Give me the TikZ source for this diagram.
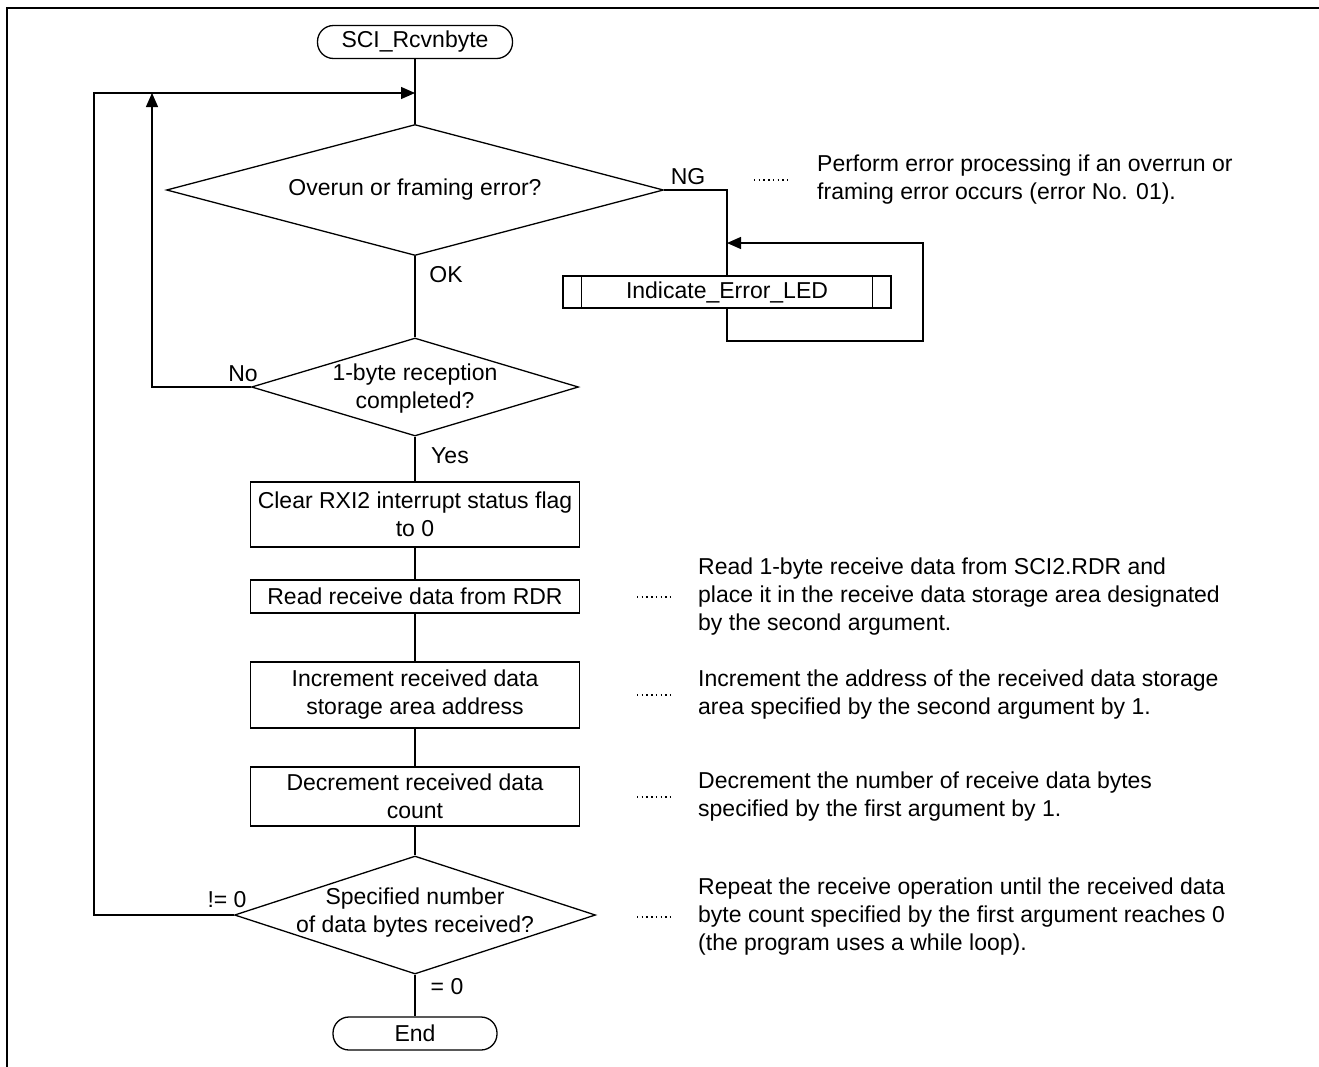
\documentclass[tikz,border=0pt]{standalone}
\usepackage{fontspec}
\setmainfont{Liberation Sans}
\usetikzlibrary{arrows.meta,shapes.geometric}
\begin{document}
\begin{tikzpicture}[x=1pt,y=-1pt,
  every node/.style={font=\fontsize{23pt}{28pt}\selectfont, inner sep=0pt},
  conn/.style={line width=1.3pt},
  arr/.style={line width=1.3pt,-{Triangle[length=14pt,width=12pt]}},
  proc/.style={draw,line width=1.3pt,rectangle,minimum width=329pt,align=center},
  terminal/.style={draw,line width=1.3pt,rectangle,rounded corners=16pt,minimum height=33pt},
  decision/.style={draw,line width=1.3pt,diamond,inner sep=0pt},
  remark/.style={anchor=west,align=left},
  leader/.style={line width=1.1pt,dash pattern=on 1.4pt off 3.3pt}
]
\useasboundingbox (0,0) rectangle (1319,1066);

% page frame (top and left rules)
\coordinate (frTR) at (1320,7.8);
\coordinate (frTL) at (6.7,7.8);
\coordinate (frBL) at (6.7,1067);
\draw[line width=2.3pt] (frTR) -- (frTL) -- (frBL);

% main column
\node[terminal, minimum width=195pt] (start) at (415,42) {SCI\_Rcvnbyte};

\node[decision, minimum width=497pt, minimum height=131pt] (d1) at (415,190) {};
\node (d1t) at (d1.center) {Overun or framing error?};

\node[decision, minimum width=327pt, minimum height=98pt] (d2) at (415,387) {};
\node[align=center] (d2t) at (415,389) {1-byte reception\\completed?};

\node[proc, minimum height=65pt] (clr) at (415,514.5) {Clear RXI2 interrupt status flag\\to 0};
\node[proc, minimum height=33pt] (rd) at (415,596.5) {Read receive data from RDR};
\node[proc, minimum height=66pt] (inc) at (415,695) {Increment received data\\storage area address};
\node[proc, minimum height=59pt] (dcr) at (415,796.5) {Decrement received data\\count};

\node[decision, minimum width=361pt, minimum height=118pt] (d3) at (415,915) {};
\node[align=center] (d3t) at (415,912.5) {Specified number\\of data bytes received?};

\node[terminal, minimum width=164pt] (fin) at (415,1033.5) {End};

% error subroutine
\node[draw, line width=1.3pt, minimum width=328pt, minimum height=32pt] (sub) at (727,292) {Indicate\_Error\_LED};
\draw[conn] ([xshift=19pt]sub.north west) -- ([xshift=19pt]sub.south west);
\draw[conn] ([xshift=-19pt]sub.north east) -- ([xshift=-19pt]sub.south east);

% branch labels
\node (ng) at (688,177) {NG};
\node (ok) at (446,275) {OK};
\node (no) at (243,374) {No};
\node (yes) at (450,456) {Yes};
\node (ne0) at (227,900) {!= 0};
\node (eq0) at (447,987) {= 0};

% connectors
\coordinate (join) at (415,93);
\coordinate (lc) at (94,93);
\coordinate (noup) at (152,93);
\coordinate (errc) at (923,341);
\coordinate (errin) at (727,243);

\draw[conn] (start.south) -- (d1.north);
\draw[conn] (d1.south) -- (d2.north);
\draw[conn] (d2.south) -- (clr.north);
\draw[conn] (clr.south) -- (rd.north);
\draw[conn] (rd.south) -- (inc.north);
\draw[conn] (inc.south) -- (dcr.north);
\draw[conn] (dcr.south) -- (d3.north);
\draw[conn] (d3.south) -- (fin.north);

\draw[conn] (d1.east) -| (sub.north);
\draw[arr] (sub.south) |- (errc) |- (errin);

\draw[arr] (d2.west) -| (noup);
\draw[arr] (d3.west) -| (lc) -- (join);

% explanatory notes
\node[remark] (n0) at (817,180) {Perform error processing if an overrun or\\framing error occurs (error No. 01).};
\node[remark] (n1) at (698,597) {Read 1-byte receive data from SCI2.RDR and\\place it in the receive data storage area designated\\by the second argument.};
\node[remark] (n2) at (698,695) {Increment the address of the received data storage\\area specified by the second argument by 1.};
\node[remark] (n3) at (698,797) {Decrement the number of receive data bytes\\specified by the first argument by 1.};
\node[remark] (n4) at (698,917) {Repeat the receive operation until the received data\\byte count specified by the first argument reaches 0\\(the program uses a while loop).};

\draw[leader] ([xshift=-63pt]n0.west) -- ([xshift=-30pt]n0.west);
\draw[leader] ([xshift=-61pt]n1.west) -- ([xshift=-28pt]n1.west);
\draw[leader] ([xshift=-61pt]n2.west) -- ([xshift=-28pt]n2.west);
\draw[leader] ([xshift=-61pt]n3.west) -- ([xshift=-28pt]n3.west);
\draw[leader] ([xshift=-61pt]n4.west) -- ([xshift=-28pt]n4.west);
\end{tikzpicture}
\end{document}
